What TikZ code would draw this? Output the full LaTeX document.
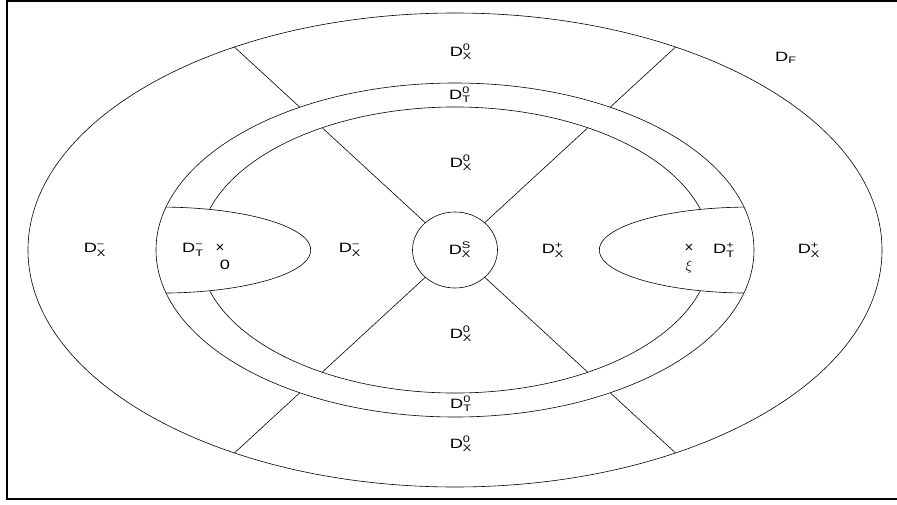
\documentclass[tikz,border=0pt]{standalone}
\usepackage{amsmath}
\usepackage{graphicx}
\usepackage{fontspec}
\setmainfont{Liberation Sans}
\usepackage{tikz}
\usetikzlibrary{positioning}
\definecolor{FigInk}{HTML}{000000}

\newcommand{\wide}[1]{\scalebox{1.35}[1]{#1}}
\newcommand{\dreg}[2]{\wide{D$^{\text{#2}}_{\text{#1}}$}}

\begin{document}
\begin{tikzpicture}[
    x=1pt, y=1pt,
    font=\fontsize{13.5}{15}\selectfont,
    bound/.style={line width=0.6pt, draw=FigInk},
    border/.style={line width=1.4pt, draw=FigInk},
    region/.style={inner sep=0pt, text=FigInk},
    crossmark/.style={inner sep=0pt, font=\fontsize{15}{16}\selectfont},
  ]
  \useasboundingbox (-455,-254) rectangle (442,250);
  \draw[border] (442,249) -- (-448,249) -- (-448,-249) -- (442,-249);

  % rings
  \draw[bound] (0,0) ellipse [x radius=427, y radius=237];
  \draw[bound] (0,0) ellipse [x radius=299, y radius=167];
  \draw[bound] (16.7:256 and 143) arc [start angle=16.7, end angle=163.3, x radius=256, y radius=143];
  \draw[bound] (196.7:256 and 143) arc [start angle=196.7, end angle=343.3, x radius=256, y radius=143];
  \draw[bound] (0,0) ellipse [x radius=42.5, y radius=38];

  % the two tongues
  \draw[bound] (-289,42.9) arc [start angle=88, end angle=-88, x radius=150, y radius=43];
  \draw[bound] (289,42.9) arc [start angle=92, end angle=268, x radius=150, y radius=43];

  % radial cuts
  \foreach \sx/\sy in {1/1,-1/1,-1/-1,1/-1} {
    \draw[bound] (\sx*29.6,\sy*27.2) -- (\sx*132.9,\sy*122.3);
    \draw[bound] (\sx*155.2,\sy*142.8) -- (\sx*220.6,\sy*203);
  }

  % labels
  \node[region] (xTop)   at (6,198)   {\dreg{X}{0}};
  \node[region] (tTop)   at (5,155)   {\dreg{T}{0}};
  \node[region] (xUp)    at (6,87)    {\dreg{X}{0}};
  \node[region] (fOut)   at (331,192) {\wide{D$_{\text{F}}$}};
  \node[region] (xLeft)  at (-360,0)  {\dreg{X}{−}};
  \node[region] (tLeft)  at (-262,0)  {\dreg{T}{−}};
  \node[region] (xMidL)  at (-105,0)  {\dreg{X}{−}};
  \node[region] (xCore)  at (5,0)     {\dreg{X}{S}};
  \node[region] (xMidR)  at (98,0)    {\dreg{X}{+}};
  \node[region] (tRight) at (269,0)   {\dreg{T}{+}};
  \node[region] (xRight) at (354,0)   {\dreg{X}{+}};
  \node[region] (xLow)   at (6,-84)   {\dreg{X}{0}};
  \node[region] (tBot)   at (6,-154)  {\dreg{T}{0}};
  \node[region] (xBot)   at (6,-194)  {\dreg{X}{0}};

  % marked points
  \node[crossmark] (crossL) at (-235,2) {×};
  \node[region]    (zeroL)  at (-230,-15) {\wide{0}};
  \node[crossmark] (crossR) at (234,2) {×};
  \node[region]    (xiR)    at (234,-17) {\fontsize{15}{16}\selectfont$\xi$};
\end{tikzpicture}
\end{document}
